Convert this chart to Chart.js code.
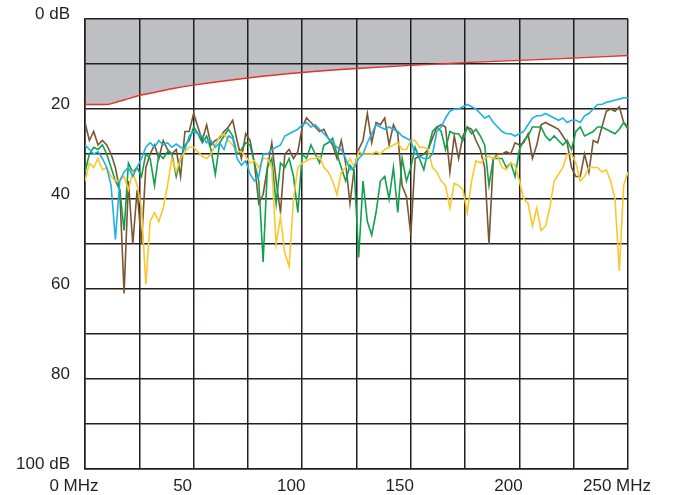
<!DOCTYPE html>
<html>
<head>
<meta charset="utf-8">
<script src="https://cdn.jsdelivr.net/npm/chart.js@4.4.1/dist/chart.umd.min.js"></script>
<style>
  html, body { margin: 0; padding: 0; background: #fff; }
  .chart-box { width: 676px; height: 495px; }
</style>
</head>
<body>
<div class="chart-box">
  <canvas id="myChart" width="676" height="495"></canvas>
</div>
<script>
  /* frequency (MHz) */
  const freq = [
    0, 2, 4, 6, 8, 10, 12, 14, 16, 18, 20, 22, 24, 26, 28, 30, 32, 34, 36, 38, 40,
    42, 44, 46, 48, 50, 52, 54, 56, 58, 60, 62, 64, 66, 68, 70, 72, 74, 76, 78, 80, 82,
    84, 86, 88, 90, 92, 94, 96, 98, 100, 102, 104, 106, 108, 110, 112, 114, 116, 118, 120, 122, 124,
    126, 128, 130, 132, 134, 136, 138, 140, 142, 144, 146, 148, 150, 152, 154, 156, 158, 160, 162, 164, 166,
    168, 170, 172, 174, 176, 178, 180, 182, 184, 186, 188, 190, 192, 194, 196, 198, 200, 202, 204, 206,
    208, 210, 212, 214, 216, 218, 220, 222, 224, 226, 228, 230, 232, 234, 236, 238, 240, 242, 244, 246, 248, 250
  ];

  /* measured attenuation (dB) */
  const cyan = [
    28, 29, 30, 29.5, 31, 33, 37, 49, 36, 34, 33, 35, 33, 31, 28.5, 27.5, 28.5, 27, 28, 27.5, 28.5,
    27.8, 28.5, 29, 26, 25, 25.5, 26, 27.5, 27, 28.5, 27.5, 29, 26, 26.5, 31, 32.5, 31.5, 34.5, 36, 35, 30,
    30, 29, 28.5, 28, 26, 25.5, 25, 24.5, 23.5, 23, 24, 23.5, 24.5, 25.5, 26.5, 27.5, 28.5, 29, 31, 33.5, 33,
    31, 30, 27.5, 25.5, 23.5, 24, 24.5, 24, 24.5, 25, 26, 26.5, 27, 30, 30.5, 31, 31, 30, 25, 24, 22,
    20.5, 20, 20, 19.5, 19, 19.5, 20, 21, 22, 21.5, 23, 24, 25, 25.5, 25.5, 26, 25.5, 25, 23.5, 22,
    21.5, 21.5, 21, 21.5, 22, 22.5, 22, 23, 22.5, 22.5, 23, 21.5, 21, 20, 19, 19, 18.5, 18.3, 18, 17.8, 17.5, 17.5
  ];
  const green = [
    34, 30, 28.5, 29, 28, 30, 33, 36, 38, 47, 32, 34, 33, 35, 30, 31, 37, 30, 31, 29.5, 30,
    35, 31, 28, 27, 24, 25.5, 27.5, 26, 29, 34.5, 27.5, 26, 24.5, 26, 30, 29, 27.5, 28, 32, 36, 54,
    33, 31, 41, 32, 33, 31, 35, 43, 30, 31, 28, 30, 32, 28, 27.5, 26.5, 30, 33, 36, 32.5, 34,
    53, 36, 45, 48, 43, 36, 35, 40, 33, 43, 31, 36, 33, 28.5, 31, 33.5, 29, 25, 24, 25, 29,
    25, 25.5, 25.5, 27, 24, 25.5, 24.5, 26, 28, 37, 31, 31, 31, 33, 32, 35, 29, 27, 26, 24,
    24, 24, 26, 27, 26, 27, 28, 27, 29, 25, 24, 26, 25.5, 25, 24, 24, 24.5, 25, 25.5, 24.5, 23, 24
  ];
  const brown = [
    23, 27, 25, 28, 27, 28, 30, 33, 38, 61, 36, 50, 38, 50, 33, 30, 28, 31, 27, 29, 30,
    29, 35, 25, 25, 21, 24, 27, 23.5, 28, 27, 26.5, 25, 24, 22.5, 27, 31, 25.5, 27, 32, 41, 39,
    33, 27.5, 36, 43, 30, 29, 31, 29.5, 24, 22, 23, 24, 25, 24.5, 26.5, 28, 31, 27, 32, 41, 33,
    29, 27, 21, 27.5, 23, 23.5, 22, 28, 23.5, 25.5, 37, 39.5, 48, 31, 30.5, 30, 29, 26.5, 24, 23.5, 24,
    34, 26, 31, 26, 24, 24.5, 27, 29, 33, 50, 31, 30, 30, 29.5, 30, 27.5, 28, 27.5, 25.5, 31,
    28, 23.5, 23, 23.5, 24, 24.5, 26, 27.5, 33, 35, 35, 30, 34, 27, 27.5, 24, 20.5, 20, 20.5, 19.5, 23, 24.5
  ];
  const yellow = [
    36, 32, 33, 31, 33.5, 33, 35, 36, 36, 35, 38, 34, 37, 42, 59, 45, 43, 45, 42, 37, 31,
    34, 31, 29.5, 28.5, 28.5, 29.5, 30.5, 31, 30, 28, 26, 25.5, 27, 28, 29.5, 29.5, 30.5, 32, 31.5, 33, 31,
    31, 33, 50, 44, 52, 55, 40, 33, 32, 31.5, 31, 31, 30.5, 33, 34, 36, 39, 34, 33, 31, 33,
    29.5, 30, 30, 30, 29.5, 30, 29, 28.5, 28, 27.5, 29, 29, 27, 27, 28.5, 28.5, 29, 33, 34, 36, 37,
    42, 36.5, 37, 38, 43, 36, 31.5, 32, 31, 30.5, 31, 30.5, 33, 33.5, 32, 32.5, 36, 40, 41, 46,
    42, 47, 46, 42, 36, 34.5, 33, 30, 30, 32, 36, 35, 33, 33, 33, 34, 33.5, 36, 40, 56, 37, 34
  ];

  /* limit line */
  const limitFreq = [0, 10, 15, 20, 25, 30, 40, 50, 75, 100, 125, 150, 175, 200, 225, 250];
  const limitDb = [19, 19, 18.4, 17.7, 17.0, 16.5, 15.5, 14.7, 13.1, 11.9, 11.0, 10.3, 9.7, 9.2, 8.7, 8.1];

  /* axis ticks */
  const xTicks = [0, 50, 100, 150, 200, 250];
  const yTicks = [0, 20, 40, 60, 80, 100];

  const toPoints = (xs, ys) => xs.map((x, i) => ({ x: x, y: ys[i] }));

  const lineSet = (label, values, color) => ({
    label: label,
    data: toPoints(freq, values),
    borderColor: color,
    borderWidth: 1.6,
    pointRadius: 0,
    fill: false,
    tension: 0
  });

  const gridColor = '#231f20';

  const data = {
    datasets: [
      {
        label: 'limit',
        data: toPoints(limitFreq, limitDb),
        borderColor: '#e5322d',
        borderWidth: 1.4,
        backgroundColor: '#bdbfc2',
        pointRadius: 0,
        fill: { value: 0 },
        cubicInterpolationMode: 'monotone'
      },
      lineSet('cyan', cyan, '#1eb1e7'),
      lineSet('yellow', yellow, '#fcc72c'),
      lineSet('green', green, '#10a14c'),
      lineSet('brown', brown, '#7a5732')
    ]
  };

  const config = {
    type: 'line',
    data: data,
    options: {
      responsive: false,
      animation: false,
      layout: {
        padding: { top: 19, right: 48, left: 0, bottom: 0 }
      },
      scales: {
        x: {
          type: 'linear',
          min: 0,
          max: 250,
          afterFit: function(scale) {
            scale.height = 26;
            scale.paddingLeft = 0;
            scale.paddingRight = 0;
          },
          grid: { color: gridColor, lineWidth: 1.5, drawTicks: false },
          border: { color: gridColor, width: 1.5 },
          ticks: {
            stepSize: 25,
            autoSkip: false,
            maxRotation: 0,
            padding: 7,
            labelOffset: -11,
            color: gridColor,
            font: { family: 'Liberation Sans', size: 17 },
            callback: function(v) {
              if (!xTicks.includes(v)) return '';
              return (v === 0 || v === 250) ? v + ' MHz' : String(v);
            }
          }
        },
        y: {
          min: 0,
          max: 100,
          reverse: true,
          afterFit: function(scale) {
            scale.width = 85;
            scale.paddingTop = 0;
            scale.paddingBottom = 0;
          },
          grid: { color: gridColor, lineWidth: 1.5, drawTicks: false },
          border: { color: gridColor, width: 1.5 },
          ticks: {
            stepSize: 10,
            autoSkip: false,
            padding: 15,
            labelOffset: -5,
            color: gridColor,
            font: { family: 'Liberation Sans', size: 17 },
            callback: function(v) {
              if (!yTicks.includes(v)) return '';
              return (v === 0 || v === 100) ? v + ' dB' : String(v);
            }
          }
        }
      },
      plugins: {
        legend: { display: false },
        tooltip: { enabled: false },
        filler: { drawTime: 'beforeDraw' }
      }
    }
  };

  const myChart = new Chart(
    document.getElementById('myChart'),
    config
  );
</script>
</body>
</html>
